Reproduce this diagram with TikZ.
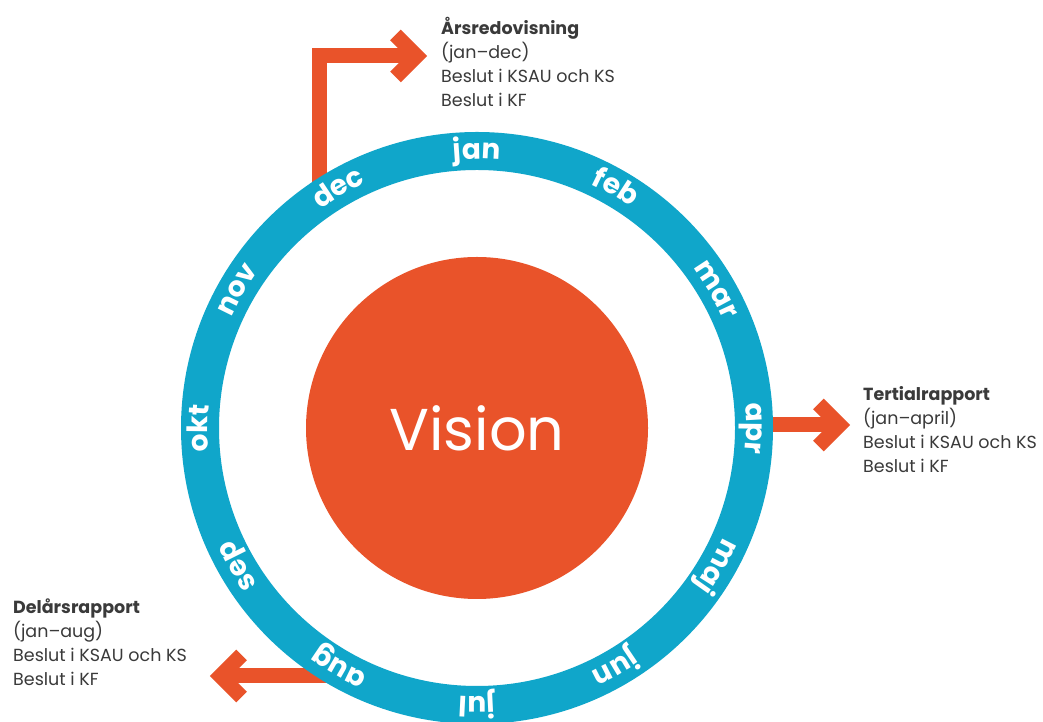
\documentclass[tikz,border=0pt]{standalone}
\usepackage{fontspec}
\setmainfont{Poppins}
\usetikzlibrary{calc,decorations.text}
\definecolor{ringblue}{HTML}{10A6CA}
\definecolor{vorange}{HTML}{E9532A}
\definecolor{txtgray}{HTML}{3A3A3A}
\newcommand\monthfont{\fontsize{28}{28}\selectfont\bfseries}
\begin{document}
\begin{tikzpicture}[x=1pt,y=1pt,
  ringline/.style={draw=ringblue, line width=38pt},
  shaft/.style={draw=vorange, line width=15pt, line join=miter},
  head/.style={draw=vorange, line width=15pt, line join=miter, line cap=butt},
  info/.style={text=txtgray, font=\fontsize{17.5}{24}\selectfont, align=left, anchor=base west, inner sep=0pt},
  visionc/.style={circle, fill=vorange, minimum size=342pt, inner sep=0pt, text=white, font=\fontsize{59}{59}\selectfont},
]
\useasboundingbox (0,0) rectangle (1043,722);
\fill[white] (0,0) rectangle (1043,722);
\coordinate (C) at (477,294);

% text blocks (anchor is the baseline of the last line)
\node[info] (ars) at (441,615) {\textbf{Årsredovisning}\\(jan–dec)\\Beslut i KSAU och KS\\Beslut i KF};
\node[info] (tert) at (863,249) {\textbf{Tertialrapport}\\(jan–april)\\Beslut i KSAU och KS\\Beslut i KF};
\node[info] (del) at (13,36) {\textbf{Delårsrapport}\\(jan–aug)\\Beslut i KSAU och KS\\Beslut i KF};

% arrows
\coordinate (decStart) at (319.5,540);
\coordinate (decTip) at (416.5,666);
\draw[shaft] (decStart) |- (decTip);
\draw[head] ($(decTip)+(-21,21)$) -- (decTip) -- ($(decTip)+(-21,-21)$);

\coordinate (aprStart) at (760,297);
\coordinate (aprTip) at (839.4,297);
\draw[shaft] (aprStart) -- (aprTip);
\draw[head] ($(aprTip)+(-21,21)$) -- (aprTip) -- ($(aprTip)+(-21,-21)$);

\coordinate (augStart) at (330,46);
\coordinate (augTip) at (220.6,46);
\draw[shaft] (augStart) -- (augTip);
\draw[head] ($(augTip)+(21,21)$) -- (augTip) -- ($(augTip)+(21,-21)$);

% ring
\draw[ringline] (C) circle (277);
\node[visionc] (vision) at (C) {Vision};

\foreach \m [count=\i from 0] in {jan,feb,mar,apr,maj,jun,jul,aug,sep,okt,nov,dec} {
  \pgfmathsetmacro\ang{90-30*\i}
  \path[decorate, decoration={text along path, text/.expanded={|\noexpand\monthfont|\m}, text align=center, text color=white}]
    ($(C)+(\ang+20:269)$) arc[start angle=\ang+20, end angle=\ang-20, radius=269];
}
\end{tikzpicture}
\end{document}
